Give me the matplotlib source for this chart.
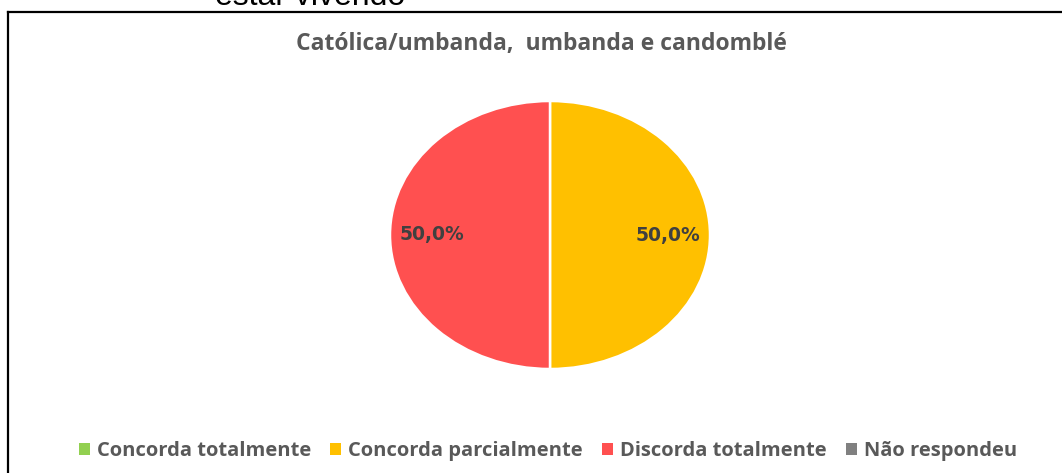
import matplotlib
matplotlib.use("Agg")
import matplotlib.pyplot as plt
from matplotlib.lines import Line2D
from matplotlib.patches import Patch

# ---------------------------------------------------------------------------
# Data
# ---------------------------------------------------------------------------
TITLE      = "Católica/umbanda,  umbanda e candomblé"
CATEGORIES = ["Concorda totalmente", "Concorda parcialmente",
              "Discorda totalmente", "Não respondeu"]
VALUES     = [0, 1, 1, 0]
COLORS     = ["#92D050", "#FFC000", "#FF5050", "#808080"]
HEADER_TXT = "estar vivendo"

W, H, DPI = 1062, 473, 100
TXT_GREY  = "#595959"

fig = plt.figure(figsize=(W / DPI, H / DPI), dpi=DPI)
fig.patch.set_facecolor("white")

# ── leftover document text + chart frame ───────────────────────────────────
fig.text(215 / W, 1 - 5 / H, HEADER_TXT, fontsize=23, family="Liberation Sans",
         color="black", ha="left", va="baseline")
fig.add_artist(Line2D([8 / W, 1.0], [1 - 12.5 / H] * 2, color="black", lw=1.6))
fig.add_artist(Line2D([8 / W] * 2, [0.0, 1 - 12.5 / H], color="black", lw=1.6))

fig.text(541 / W, 1 - 44 / H, TITLE, fontsize=16.5, family="Open Sans",
         weight="bold", color=TXT_GREY, ha="center", va="center")

# ── pie (stretched into an ellipse like the source) ────────────────────────
cx, cy, rx, ry = 550, 235, 160, 134
ax = fig.add_axes([(cx - rx) / W, 1 - (cy + ry) / H, 2 * rx / W, 2 * ry / H])

idx    = [i for i, v in enumerate(VALUES) if v > 0]
vals   = [VALUES[i] for i in idx]
cols   = [COLORS[i] for i in idx]

wedges, texts, autotexts = ax.pie(
    vals, colors=cols, startangle=90, counterclock=False, radius=1.0,
    autopct=lambda p: f"{p:.1f}%".replace(".", ","), pctdistance=0.74,
    wedgeprops=dict(edgecolor="white", linewidth=1.8),
    textprops=dict(fontsize=13.5, weight="bold", color="#404040",
                   family="DejaVu Sans"),
)
ax.set_aspect("auto")
ax.set_xlim(-1.0, 1.0)
ax.set_ylim(-1.0, 1.0)
ax.axis("off")

# ── legend ─────────────────────────────────────────────────────────────────
handles = [Patch(facecolor=c, edgecolor="none") for c in COLORS]
leg = fig.legend(handles, CATEGORIES, loc="center", ncol=4,
                 bbox_to_anchor=(548 / W, 1 - 451 / H), frameon=False,
                 prop=dict(family="Open Sans", weight="bold", size=14.5),
                 handlelength=0.55, handleheight=0.5, handletextpad=0.35,
                 columnspacing=0.95)
for t in leg.get_texts():
    t.set_color(TXT_GREY)

fig.savefig("out.png", dpi=DPI)
